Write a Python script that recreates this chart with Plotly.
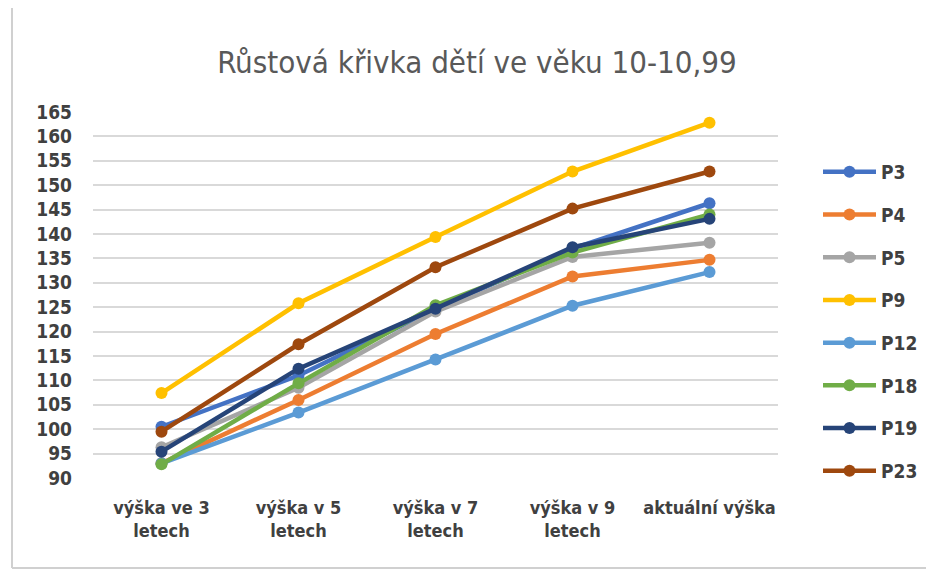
import plotly.graph_objects as go

categories = ["výška ve 3<br>letech", "výška v 5<br>letech", "výška v 7<br>letech",
              "výška v 9<br>letech", "aktuální výška"]

series_names = ["P3", "P4", "P5", "P9", "P12", "P18", "P19", "P23"]
P3 = [100.5, 111.0, 124.6, 137.0, 146.3]
P4 = [93.0, 106.0, 119.5, 131.3, 134.7]
P5 = [96.3, 108.5, 124.1, 135.3, 138.2]
P9 = [107.4, 125.8, 139.4, 152.8, 162.8]
P12 = [93.0, 103.4, 114.3, 125.3, 132.2]
P18 = [92.8, 109.4, 125.4, 136.2, 144.0]
P19 = [95.4, 112.4, 124.7, 137.3, 143.1]
P23 = [99.5, 117.4, 133.2, 145.2, 152.8]
series_values = [P3, P4, P5, P9, P12, P18, P19, P23]
colors = ["#4472C4", "#ED7D31", "#A5A5A5", "#FFC000", "#5B9BD5", "#70AD47", "#264478", "#9E480E"]
y_ticks = list(range(90, 166, 5))

FONT = "Liberation Sans Narrow, DejaVu Sans Condensed, Liberation Sans, sans-serif"

fig = go.Figure()
for name, vals, col in zip(series_names, series_values, colors):
    fig.add_trace(go.Scatter(
        x=categories, y=vals, name=name, mode="lines+markers",
        line=dict(color=col, width=4.5),
        marker=dict(color=col, size=12),
        legendgroup=name, cliponaxis=False,
    ))

# page offset of the figure inside the html body (default body margin)
OFF = 8
W, H = 934, 571
# plot area in screen pixels: x 93..778, y 112..478
L = 93 - OFF
T = 112 - OFF
pw, ph = 778 - 93, 478 - 112
R = W - L - pw
B = H - T - ph

def px_x(px):
    return (px - OFF - L) / pw

def px_y(py):
    return (T + ph - (py - OFF)) / ph

frame = dict(color="#D0D0D0", width=2)

fig.update_layout(
    width=W, height=H,
    margin=dict(l=L, r=R, t=T, b=B),
    paper_bgcolor="white", plot_bgcolor="white",
    title=dict(text="Růstová křivka dětí ve věku 10-10,99",
               x=(477 - OFF) / W, xanchor="center", xref="container",
               y=1 - (62 - OFF) / H, yanchor="middle",
               font=dict(family=FONT, size=31, color="#595959")),
    font=dict(family=FONT, color="#404040"),
    xaxis=dict(type="category", range=[-0.5, 4.5], showgrid=False, zeroline=False,
               showline=False, ticks="",
               tickfont=dict(family=FONT, size=18, color="#404040", weight="bold"),
               ticklabelstandoff=17),
    yaxis=dict(range=[90, 165], tickvals=y_ticks, showgrid=True, gridcolor="#D9D9D9",
               gridwidth=1.5, zeroline=False, showline=False, ticks="",
               tickfont=dict(family=FONT, size=19, color="#404040", weight="bold"),
               ticklabelstandoff=20),
    legend=dict(x=px_x(818), xanchor="left", y=px_y(153), yanchor="top",
                font=dict(family=FONT, size=19, color="#404040", weight="bold"),
                tracegroupgap=15, bgcolor="rgba(0,0,0,0)", itemwidth=53,
                maxheight=1),
    showlegend=True,
    shapes=[
        dict(type="line", xref="paper", yref="paper",
             x0=px_x(12), x1=px_x(12), y0=px_y(568), y1=px_y(7), line=frame, layer="below"),
        dict(type="line", xref="paper", yref="paper",
             x0=px_x(12), x1=px_x(934), y0=px_y(7), y1=px_y(7), line=frame, layer="below"),
        dict(type="line", xref="paper", yref="paper",
             x0=px_x(12), x1=px_x(934), y0=px_y(568), y1=px_y(568), line=frame, layer="below"),
    ],
)

fig.write_html("out.html")
